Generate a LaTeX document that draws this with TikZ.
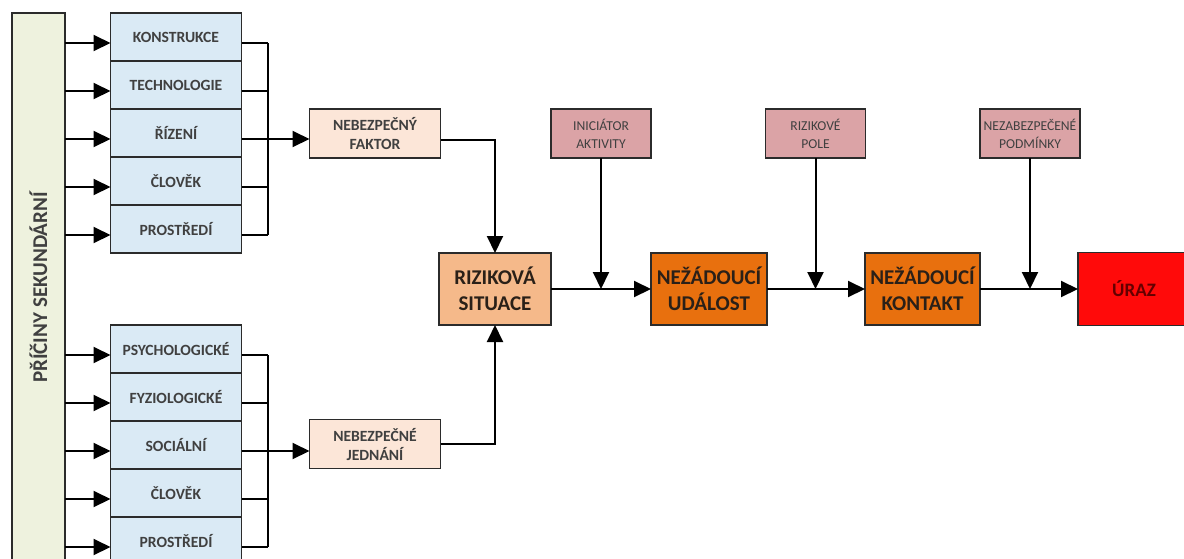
\documentclass[tikz,border=0pt]{standalone}
\usepackage{fontspec}
\setmainfont{Carlito}
\usetikzlibrary{positioning,arrows.meta}

\definecolor{boxline}{HTML}{2B2B2B}
\definecolor{graytext}{HTML}{404040}
\definecolor{darktext}{HTML}{2A2018}
\definecolor{barfill}{HTML}{EEF2DE}
\definecolor{causefill}{HTML}{DAEAF5}
\definecolor{hazfill}{HTML}{FCE6D8}
\definecolor{sitfill}{HTML}{F5B98A}
\definecolor{trigfill}{HTML}{DBA3A6}
\definecolor{evfill}{HTML}{E8700E}
\definecolor{injfill}{HTML}{FF0A0A}
\definecolor{injtext}{HTML}{640000}

\tikzset{
  box/.style={draw=boxline, line width=0.9pt, inner sep=1pt, outer sep=0pt, align=center},
  barbox/.style={box, fill=barfill, rotate=90, minimum width=274.5pt, minimum height=26.5pt,
    text=graytext, font=\bfseries\fontsize{10.5}{12}\selectfont},
  causebox/.style={box, fill=causefill, minimum width=65.5pt, minimum height=24pt,
    text=graytext, font=\bfseries\fontsize{7.8}{9.5}\selectfont},
  hazbox/.style={box, fill=hazfill, minimum width=65.5pt, minimum height=24.5pt,
    text=graytext, font=\bfseries\fontsize{7.8}{9.5}\selectfont},
  sitbox/.style={box, fill=sitfill, minimum width=56pt, minimum height=36pt,
    text=darktext, font=\bfseries\fontsize{10.5}{13}\selectfont},
  evbox/.style={box, fill=evfill, minimum height=36pt,
    text=darktext, font=\bfseries\fontsize{10.5}{13}\selectfont},
  trigbox/.style={box, fill=trigfill, minimum width=50pt, minimum height=24.5pt,
    text=graytext, font=\fontsize{6.8}{9}\selectfont},
  injbox/.style={box, fill=injfill, minimum width=56pt, minimum height=36.5pt,
    text=injtext, font=\bfseries\fontsize{9.5}{12}\selectfont},
  link/.style={draw=black, line width=1pt},
  flow/.style={link, -{Triangle[length=8.5pt,width=8pt]}},
}

\begin{document}
\begin{tikzpicture}[x=0.5pt,y=0.5pt,yscale=-1,xscale=1]
    \clip (0,0) rectangle (1184,558);

    %Shape: side bar
    \node[barbox] (bar) at (38.5,287.5) {PŘÍČINY SEKUNDÁRNÍ};

    %Shape: upper causes
    \node[causebox] (t1) at (176,37) {KONSTRUKCE};
    \node[causebox, below=0pt of t1] (t2) {TECHNOLOGIE};
    \node[causebox, below=0pt of t2] (t3) {ŘÍZENÍ};
    \node[causebox, below=0pt of t3] (t4) {ČLOVĚK};
    \node[causebox, below=0pt of t4] (t5) {PROSTŘEDÍ};

    %Shape: lower causes
    \node[causebox] (b1) at (176,349) {PSYCHOLOGICKÉ};
    \node[causebox, below=0pt of b1] (b2) {FYZIOLOGICKÉ};
    \node[causebox, below=0pt of b2] (b3) {SOCIÁLNÍ};
    \node[causebox, below=0pt of b3] (b4) {ČLOVĚK};
    \node[causebox, below=0pt of b4] (b5) {PROSTŘEDÍ};

    %Shape: hazards
    \node[hazbox] (fak) at (375,133.5) {NEBEZPEČNÝ\\FAKTOR};
    \node[hazbox] (jed) at (375,444) {NEBEZPEČNÉ\\JEDNÁNÍ};

    %Shape: main chain
    \node[sitbox] (sit) at (495,289) {RIZIKOVÁ\\SITUACE};
    \node[evbox, minimum width=58pt] (ud) at (709,289) {NEŽÁDOUCÍ\\UDÁLOST};
    \node[evbox, minimum width=57.5pt] (kon) at (922.5,289) {NEŽÁDOUCÍ\\KONTAKT};
    \node[injbox] (uraz) at (1134,289) {ÚRAZ};

    %Shape: triggers
    \node[trigbox] (ini) at (601,133.5) {INICIÁTOR\\AKTIVITY};
    \node[trigbox] (pol) at (815.5,133.5) {RIZIKOVÉ\\POLE};
    \node[trigbox] (pod) at (1030,133.5) {NEZABEZPEČENÉ\\PODMÍNKY};

    %Straight Lines: bar to causes, causes to bus
    \foreach \g in {t,b}{
      \foreach \i in {1,...,5}{
        \coordinate (\g l\i) at ([yshift=3pt]\g\i.west);
        \coordinate (\g r\i) at ([yshift=3pt,xshift=13pt]\g\i.east);
        \draw[flow] (\g l\i -| bar.south) -- (\g l\i);
        \draw[link] ([yshift=3pt]\g\i.east) -- (\g r\i);
      }
      \draw[link] (\g r1) -- (\g r5);
    }

    %Straight Lines: bus to hazards
    \draw[flow] (tr3) -- (tr3 -| fak.west);
    \draw[flow] (br3) -- (br3 -| jed.west);

    %Straight Lines: hazards to situation
    \draw[flow] ([yshift=3pt]fak.east) -| (sit.north);
    \draw[flow] (jed.east) -| (sit.south);

    %Straight Lines: main chain
    \draw[flow] (sit.east) -- (ud.west);
    \draw[flow] (ud.east) -- (kon.west);
    \draw[flow] (kon.east) -- (uraz.west);

    %Straight Lines: triggers
    \draw[flow] (ini.south) -- (ini.south |- sit.east);
    \draw[flow] (pol.south) -- (pol.south |- ud.east);
    \draw[flow] (pod.south) -- (pod.south |- kon.east);

\end{tikzpicture}
\end{document}
